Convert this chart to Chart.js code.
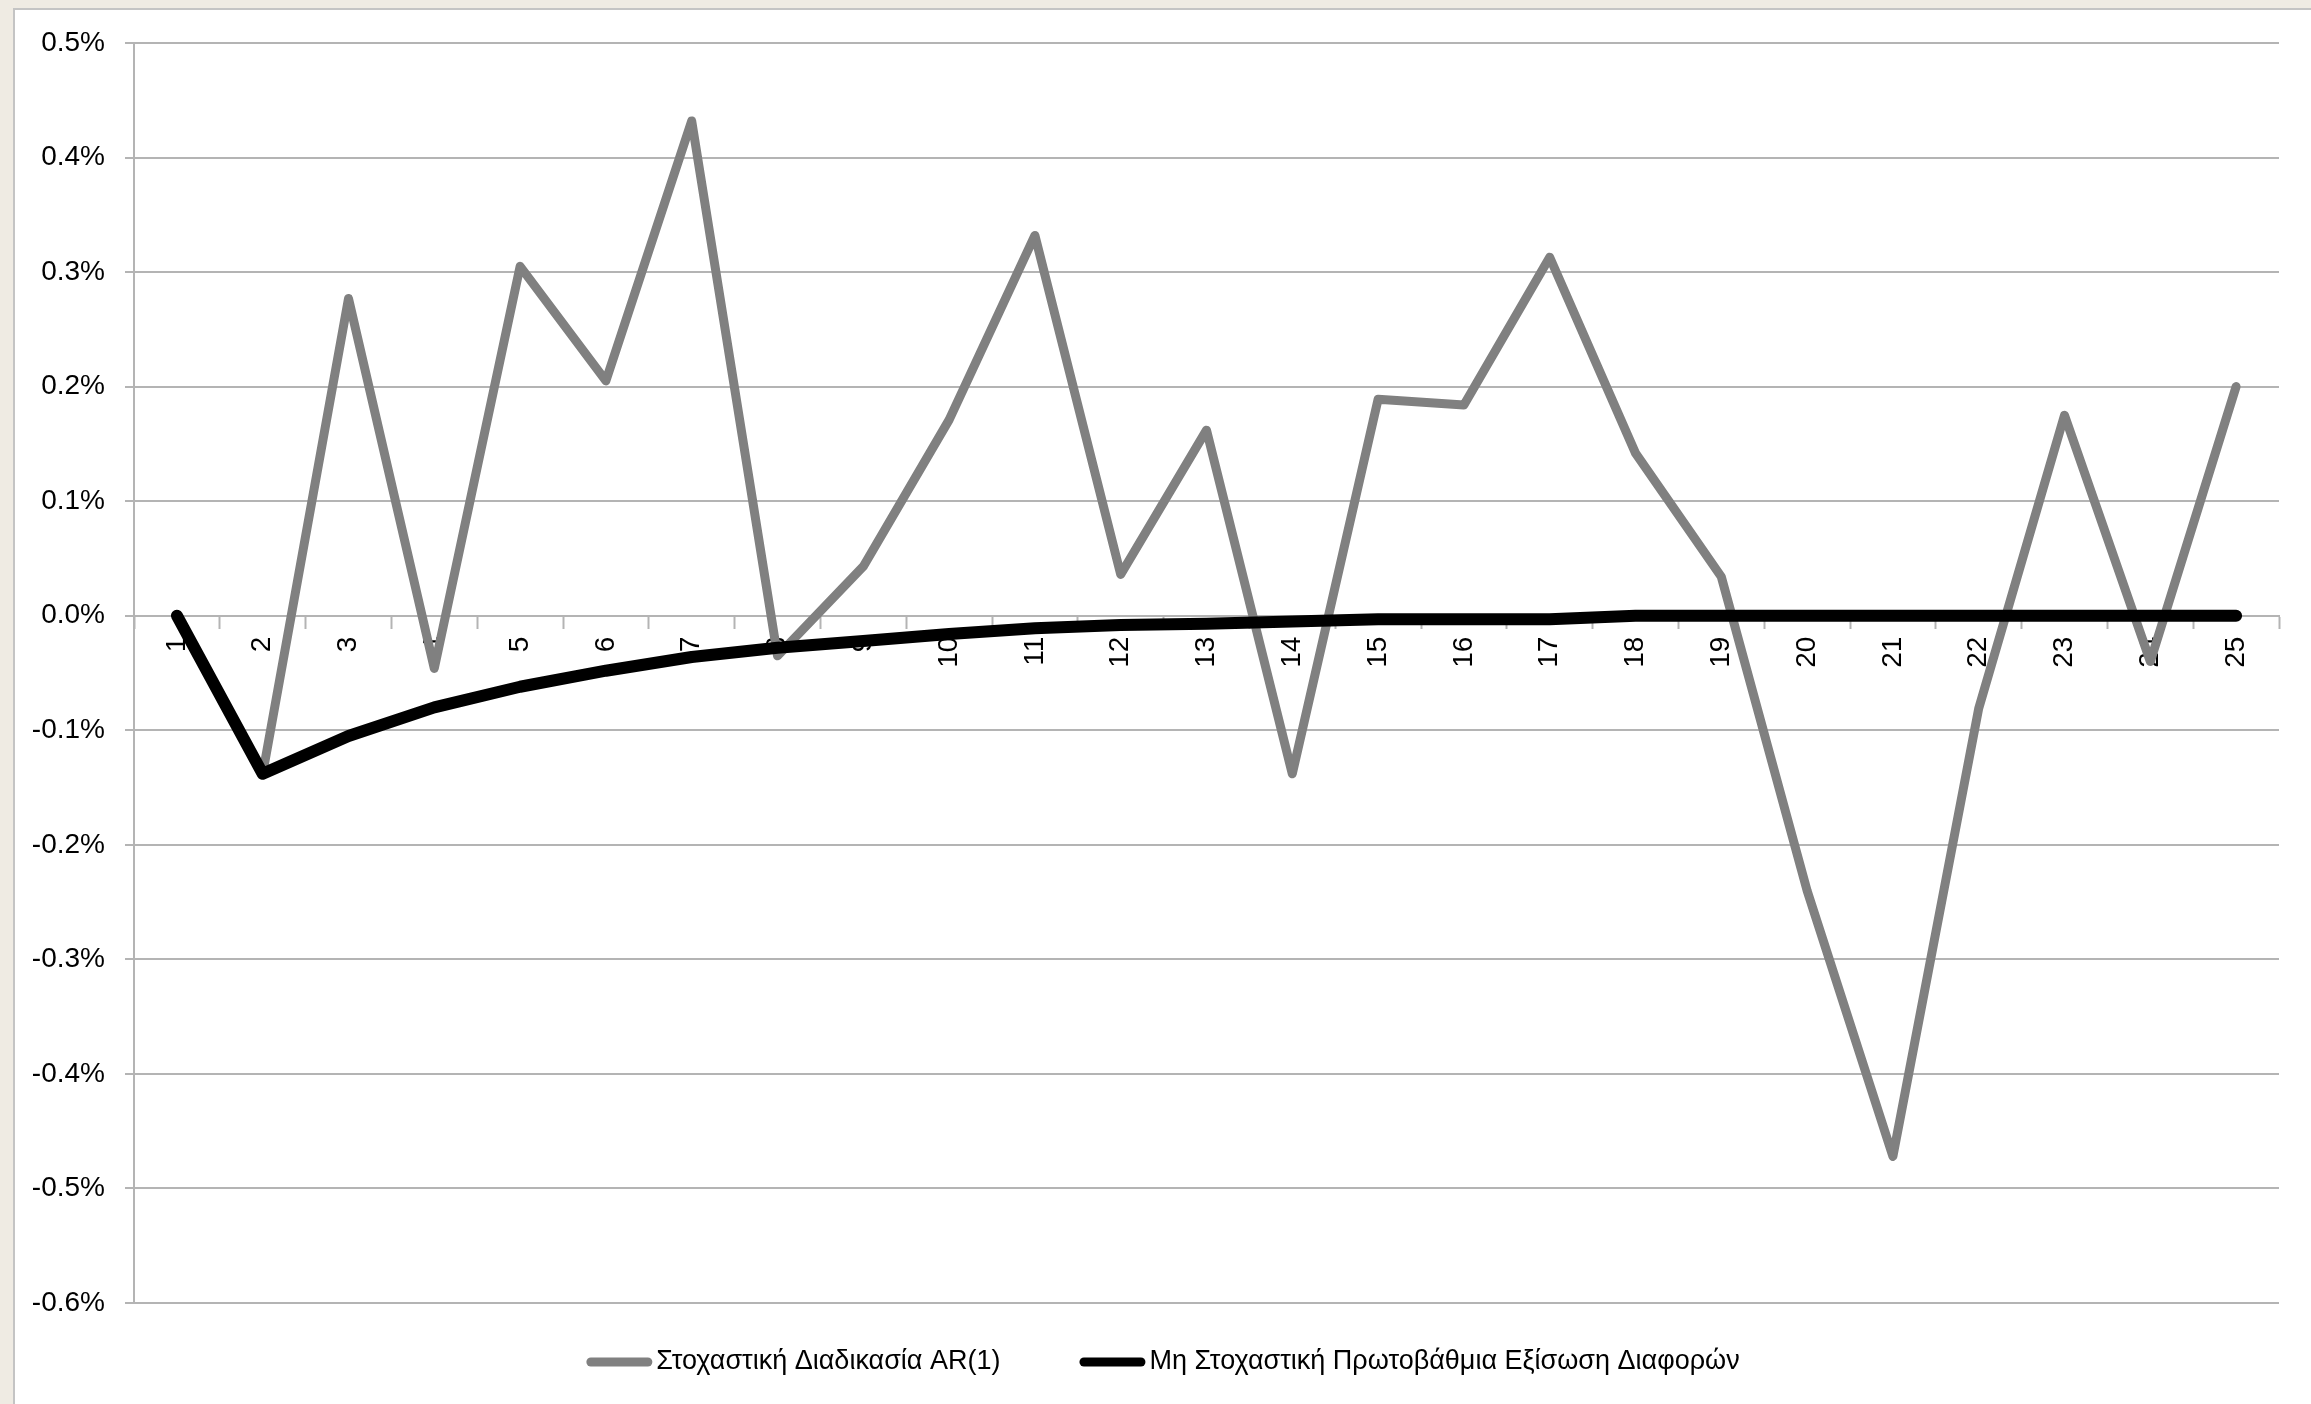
<!DOCTYPE html>
<html lang="el">
<head>
<meta charset="utf-8">
<title>Στοχαστική Διαδικασία AR(1)</title>
<script src="https://cdn.jsdelivr.net/npm/chart.js@4.4.1/dist/chart.umd.min.js"></script>
<style>
  html, body { margin: 0; padding: 0; }
  body {
    width: 2311px; height: 1404px; overflow: hidden;
    background: #efebe3;
    position: relative;
  }
  #frame {
    position: absolute; left: 13px; top: 8px;
    width: 2298px; height: 1396px;
    background: #ffffff;
    border-left: 2px solid #c4c4c4;
    border-top: 2px solid #c4c4c4;
  }
  #chart { display: block; }
</style>
</head>
<body>
<div id="frame"><canvas id="chart" width="2296" height="1394"></canvas></div>
<script>
// Periods 1..25
const periods = ['1','2','3','4','5','6','7','8','9','10','11','12','13','14','15','16','17','18','19','20','21','22','23','24','25'];

// Stochastic AR(1) process, values in percent
const ar1Values = [0.000, -0.138, 0.277, -0.046, 0.305, 0.205, 0.432, -0.035, 0.043, 0.171,
                   0.332, 0.036, 0.162, -0.138, 0.189, 0.184, 0.313, 0.142, 0.034, -0.240,
                   -0.472, -0.081, 0.175, -0.040, 0.200];

// Deterministic first-order difference equation, values in percent
const diffEqValues = [0.000, -0.138, -0.105, -0.080, -0.062, -0.048, -0.036, -0.028, -0.022, -0.016,
                      -0.011, -0.008, -0.007, -0.005, -0.003, -0.003, -0.003, 0.000, 0.000, 0.000,
                      0.000, 0.000, 0.000, 0.000, 0.000];

// Y axis range and step, percent
const yMin = -0.6, yMax = 0.5, yStep = 0.1;

const seriesNames = ['Στοχαστική Διαδικασία AR(1)', 'Μη Στοχαστική Πρωτοβάθμια Εξίσωση Διαφορών'];

const FONT = '"Liberation Sans", Arial, sans-serif';
const GRID = '#b4b4b4';

// Legend drawn beneath the plot: a short rounded stroke followed by the series name
const seriesKey = {
  id: 'seriesKey',
  afterDraw(chart) {
    const ctx = chart.ctx;
    const sets = chart.data.datasets;
    const swatch = 66, gap = 4, itemGap = 79;
    const y = chart.chartArea.bottom + 59;
    ctx.save();
    ctx.font = '27px ' + FONT;
    ctx.textBaseline = 'middle';
    const widths = sets.map(ds => swatch + gap + ctx.measureText(ds.label).width);
    const total = widths.reduce((a, b) => a + b, 0) + itemGap * (sets.length - 1);
    let x = (chart.width - total) / 2;
    sets.forEach((ds, i) => {
      ctx.strokeStyle = ds.borderColor;
      ctx.lineWidth = 9;
      ctx.lineCap = 'round';
      ctx.beginPath();
      ctx.moveTo(x + 4.5, y);
      ctx.lineTo(x + swatch - 4.5, y);
      ctx.stroke();
      ctx.fillStyle = '#000';
      ctx.fillText(ds.label, x + swatch + gap, y);
      x += widths[i] + itemGap;
    });
    ctx.restore();
  }
};

new Chart(document.getElementById('chart'), {
  type: 'line',
  data: {
    labels: periods,
    datasets: [
      {
        label: seriesNames[0],
        data: ar1Values,
        borderColor: '#808080',
        backgroundColor: '#808080',
        borderWidth: 9,
        order: 2
      },
      {
        label: seriesNames[1],
        data: diffEqValues,
        borderColor: '#000000',
        backgroundColor: '#000000',
        borderWidth: 12,
        order: 1
      }
    ]
  },
  options: {
    responsive: false,
    animation: false,
    devicePixelRatio: 1,
    layout: { padding: { left: 0, top: 33, right: 32, bottom: 101 } },
    elements: {
      line: { tension: 0, borderCapStyle: 'round', borderJoinStyle: 'round', fill: false },
      point: { radius: 0, hoverRadius: 0 }
    },
    plugins: {
      legend: { display: false },
      tooltip: { enabled: false },
      title: { display: false }
    },
    scales: {
      x: {
        type: 'category',
        position: { y: 0 },
        offset: true,
        grid: {
          display: true,
          offset: true,
          drawOnChartArea: false,
          drawTicks: true,
          tickLength: 12,
          tickWidth: 2,
          tickColor: GRID,
          color: GRID
        },
        border: { display: true, color: GRID, width: 2 },
        ticks: {
          autoSkip: false,
          minRotation: 90,
          maxRotation: 90,
          padding: 9,
          color: '#000',
          font: { family: FONT, size: 28 }
        }
      },
      y: {
        type: 'linear',
        min: yMin,
        max: yMax,
        afterFit(scale) { scale.width = 119; },
        grid: {
          color: GRID,
          lineWidth: 2,
          drawTicks: true,
          tickLength: 9,
          tickColor: GRID
        },
        border: { display: true, color: GRID, width: 2 },
        ticks: {
          stepSize: yStep,
          padding: 20,
          color: '#000',
          font: { family: FONT, size: 28, lineHeight: 0.9 },
          callback: v => v.toFixed(1) + '%'
        }
      }
    }
  },
  plugins: [seriesKey]
});
</script>
</body>
</html>
